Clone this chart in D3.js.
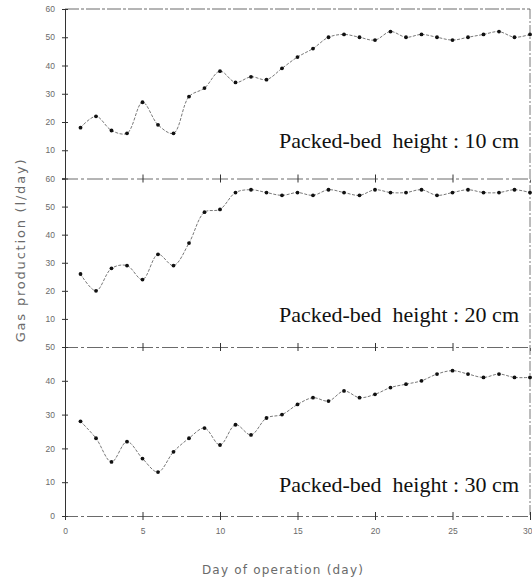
<!DOCTYPE html>
<html>
<head>
<meta charset="utf-8">
<script src="https://cdn.jsdelivr.net/npm/d3@7"></script>
<style>
  body { margin: 0; background: #fff; }
</style>
</head>
<body>
<main></main>
<script>
// data
const days = [1, 2, 3, 4, 5, 6, 7, 8, 9, 10, 11, 12, 13, 14, 15, 16, 17, 18, 19, 20, 21, 22, 23, 24, 25, 26, 27, 28, 29, 30];
const gas10cm = [18, 22, 17, 16, 27, 19, 16, 29, 32, 38, 34, 36, 35, 39, 43, 46, 50, 51, 50, 49, 52, 50, 51, 50, 49, 50, 51, 52, 50, 51];
const gas20cm = [26, 20, 28, 29, 24, 33, 29, 37, 48, 49, 55, 56, 55, 54, 55, 54, 56, 55, 54, 56, 55, 55, 56, 54, 55, 56, 55, 55, 56, 55];
const gas30cm = [28, 23, 16, 22, 17, 13, 19, 23, 26, 21, 27, 24, 29, 30, 33, 35, 34, 37, 35, 36, 38, 39, 40, 42, 43, 42, 41, 42, 41, 41];
const panelLabels = ['Packed-bed\u00a0\u00a0height : 10 cm', 'Packed-bed\u00a0\u00a0height : 20 cm', 'Packed-bed\u00a0\u00a0height : 30 cm'];
const panelTicks = [[10, 20, 30, 40, 50, 60], [10, 20, 30, 40, 50, 60], [0, 10, 20, 30, 40, 50]];
const panelMax = [60, 60, 50];
const xTicks = [0, 5, 10, 15, 20, 25, 30];

const width = 532;
const height = 581;
const left = 65;
const right = 530;
// top/bottom pixel of each stacked panel
const panelBounds = [[9, 178.5], [178.5, 347], [347, 516]];
// distance of the annotation baseline above each panel's bottom line
const labelLift = [31, 25, 24];
const series = [gas10cm, gas20cm, gas30cm];

const svg = d3.select('main')
  .append('svg')
  .attr('width', width)
  .attr('height', height)
  .style('font-family', 'DejaVu Sans, sans-serif');

const xScale = d3.scaleLinear()
  .domain([0, 30])
  .range([left, right]);

const greyText = '#6a6a6a';

// frame: top line and right edge
svg.append('line')
  .attr('x1', left).attr('x2', right)
  .attr('y1', 9).attr('y2', 9)
  .attr('stroke', '#444').attr('stroke-width', 0.8)
  .attr('stroke-dasharray', '14,2,3,2');

svg.append('line')
  .attr('x1', right).attr('x2', right)
  .attr('y1', 9).attr('y2', 516)
  .attr('stroke', '#555').attr('stroke-width', 0.8)
  .attr('stroke-dasharray', '10,2,2,2');

series.forEach((values, p) => {
  const [top, bottom] = panelBounds[p];
  const yScale = d3.scaleLinear()
    .domain([0, panelMax[p]])
    .range([bottom, top]);

  // left axis, ticks cross the line
  const yAxis = d3.axisLeft(yScale)
    .tickValues(panelTicks[p])
    .tickSize(3)
    .tickPadding(7);

  const gy = svg.append('g')
    .attr('transform', `translate(${left},0)`)
    .call(yAxis);
  gy.select('.domain').attr('stroke', '#333').attr('stroke-width', 1);
  gy.selectAll('.tick line').attr('x1', 3).attr('stroke', '#333');
  gy.selectAll('.tick text')
    .attr('fill', greyText)
    .attr('font-size', 8.5);

  // bottom line of the panel with crossing ticks
  const xAxis = d3.axisBottom(xScale)
    .tickValues(p === 2 ? xTicks : xTicks.slice(1, -1))
    .tickSize(4)
    .tickPadding(8);

  const gx = svg.append('g')
    .attr('transform', `translate(0,${bottom})`)
    .call(xAxis);
  gx.select('.domain')
    .attr('stroke', '#444')
    .attr('stroke-width', 0.8)
    .attr('stroke-dasharray', '16,3,3,3');
  gx.selectAll('.tick line').attr('y1', -4).attr('stroke', '#333');
  if (p === 2) {
    gx.selectAll('.tick text')
      .attr('fill', greyText)
      .attr('font-size', 8.5)
      .attr('text-anchor', d => d === 30 ? 'end' : 'middle')
      .attr('dx', d => d === 30 ? 2 : 0);
  } else {
    gx.selectAll('.tick text').remove();
  }

  // smooth curve through the daily points
  const line = d3.line()
    .x((d, i) => xScale(days[i]))
    .y(d => yScale(d))
    .curve(d3.curveCatmullRom.alpha(0.5));

  svg.append('path')
    .datum(values)
    .attr('d', line)
    .attr('fill', 'none')
    .attr('stroke', '#555')
    .attr('stroke-width', 0.8)
    .attr('stroke-dasharray', '3,1.5');

  svg.append('g')
    .selectAll('circle')
    .data(values)
    .enter()
    .append('circle')
    .attr('cx', (d, i) => xScale(days[i]))
    .attr('cy', d => yScale(d))
    .attr('r', 1.9)
    .attr('fill', '#111');

  // panel annotation
  svg.append('text')
    .text(panelLabels[p])
    .attr('x', 519)
    .attr('y', bottom - labelLift[p])
    .attr('text-anchor', 'end')
    .attr('font-family', 'Liberation Serif, Times New Roman, serif')
    .attr('font-size', 22)
    .attr('fill', '#111');
});

// axis titles
svg.append('text')
  .text('Day of operation (day)')
  .attr('x', 283)
  .attr('y', 574)
  .attr('text-anchor', 'middle')
  .attr('font-size', 12)
  .attr('letter-spacing', 1.2)
  .attr('fill', greyText);

svg.append('text')
  .text('Gas production (l/day)')
  .attr('transform', 'translate(25,250)rotate(-90)')
  .attr('text-anchor', 'middle')
  .attr('font-size', 13)
  .attr('letter-spacing', 1.8)
  .attr('fill', greyText);
</script>
</body>
</html>
